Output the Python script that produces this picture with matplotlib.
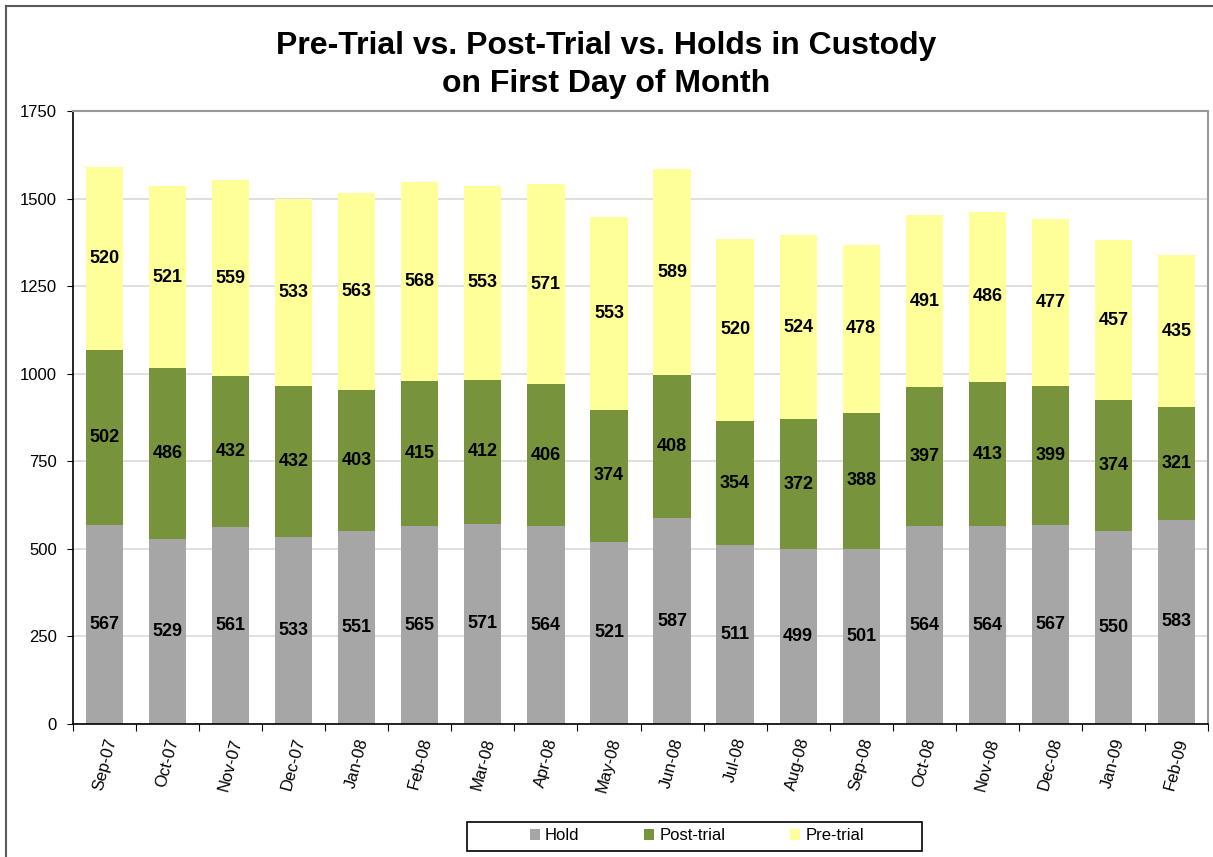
import matplotlib
matplotlib.use("Agg")
import matplotlib.pyplot as plt
from matplotlib.lines import Line2D
from matplotlib.patches import Rectangle
import numpy as np

months = ["Sep-07", "Oct-07", "Nov-07", "Dec-07", "Jan-08", "Feb-08", "Mar-08", "Apr-08",
          "May-08", "Jun-08", "Jul-08", "Aug-08", "Sep-08", "Oct-08", "Nov-08", "Dec-08",
          "Jan-09", "Feb-09"]
hold = [567, 529, 561, 533, 551, 565, 571, 564, 521, 587, 511, 499, 501, 564, 564, 567, 550, 583]
post_trial = [502, 486, 432, 432, 403, 415, 412, 406, 374, 408, 354, 372, 388, 397, 413, 399, 374, 321]
pre_trial = [520, 521, 559, 533, 563, 568, 553, 571, 553, 589, 520, 524, 478, 491, 486, 477, 457, 435]
yticks = [0, 250, 500, 750, 1000, 1250, 1500, 1750]

plt.rcParams['font.family'] = ['Liberation Sans', 'DejaVu Sans']

W, H = 1213, 857
fig = plt.figure(figsize=(W / 100, H / 100), dpi=100)
ax = fig.add_axes([73/W, 1-724/H, (1208-73)/W, (724-111)/H])

x = np.arange(len(months))
w = 0.59
hold_a = np.array(hold); post_a = np.array(post_trial); pre_a = np.array(pre_trial)
c_hold, c_post, c_pre = "#a6a6a6", "#77933c", "#ffff99"
b1 = ax.bar(x, hold_a, w, color=c_hold, label="Hold", zorder=2)
b2 = ax.bar(x, post_a, w, bottom=hold_a, color=c_post, label="Post-trial", zorder=2)
b3 = ax.bar(x, pre_a, w, bottom=hold_a + post_a, color=c_pre, label="Pre-trial", zorder=2)

for vals, bottoms in [(hold_a, np.zeros_like(hold_a)), (post_a, hold_a), (pre_a, hold_a + post_a)]:
    for xi, v, b in zip(x, vals, bottoms):
        ax.text(xi, b + v / 2, str(v), ha="center", va="center", fontsize=13,
                fontweight="bold", color="black", zorder=3)

ax.set_xlim(-0.5, len(months) - 0.5)
ax.set_ylim(0, 1750)
ax.set_yticks(yticks)
ax.set_yticklabels([str(t) for t in yticks], fontsize=12)
ax.yaxis.grid(True, color="#d9d9d9", linewidth=1.2, zorder=0)
ax.set_axisbelow(True)

ax.set_xticks(np.arange(-0.5, len(months), 1.0))
ax.set_xticklabels([])
ax.set_xticks(x, minor=True)
ax.set_xticklabels(months, minor=True, rotation=75, fontsize=12, ha="center", va="top")
ax.tick_params(axis="x", which="minor", length=0, pad=9)
ax.tick_params(axis="x", which="major", length=5, direction="out", color="black")
ax.tick_params(axis="y", length=4.5, direction="out", pad=7)

for s in ["left", "bottom"]:
    ax.spines[s].set_color("black")
    ax.spines[s].set_linewidth(1.2)
for s in ["top", "right"]:
    ax.spines[s].set_color("#9a9a9a")
    ax.spines[s].set_linewidth(1.5)

fig.text(0.5, 1 - 46/H, "Pre-Trial vs. Post-Trial vs. Holds in Custody", ha="center", va="center",
         fontsize=23, fontweight="bold")
fig.text(0.5, 1 - 84/H, "on First Day of Month", ha="center", va="center",
         fontsize=23, fontweight="bold")

# legend box
fig.add_artist(Rectangle((467/W, 1 - 851/H), (922-467)/W, (851-822)/H, transform=fig.transFigure,
                         facecolor="white", edgecolor="black", linewidth=1.2, zorder=5))
leg = fig.legend(handles=[b1, b2, b3], labels=["Hold", "Post-trial", "Pre-trial"], loc="center",
                 bbox_to_anchor=(697/W, 1 - 836/H), ncol=3, frameon=False,
                 fontsize=12, handlelength=0.6, handleheight=0.6,
                 columnspacing=3.9, handletextpad=0.3, borderpad=0.0, borderaxespad=0)
leg.set_zorder(6)

# figure border
fig.add_artist(Line2D([6/W, 6/W], [0, 1 - 6/H], transform=fig.transFigure, color="#595959", linewidth=1.5))
fig.add_artist(Line2D([6/W, 1], [1 - 6/H, 1 - 6/H], transform=fig.transFigure, color="#595959", linewidth=1.5))

fig.savefig("out.png", dpi=100)
